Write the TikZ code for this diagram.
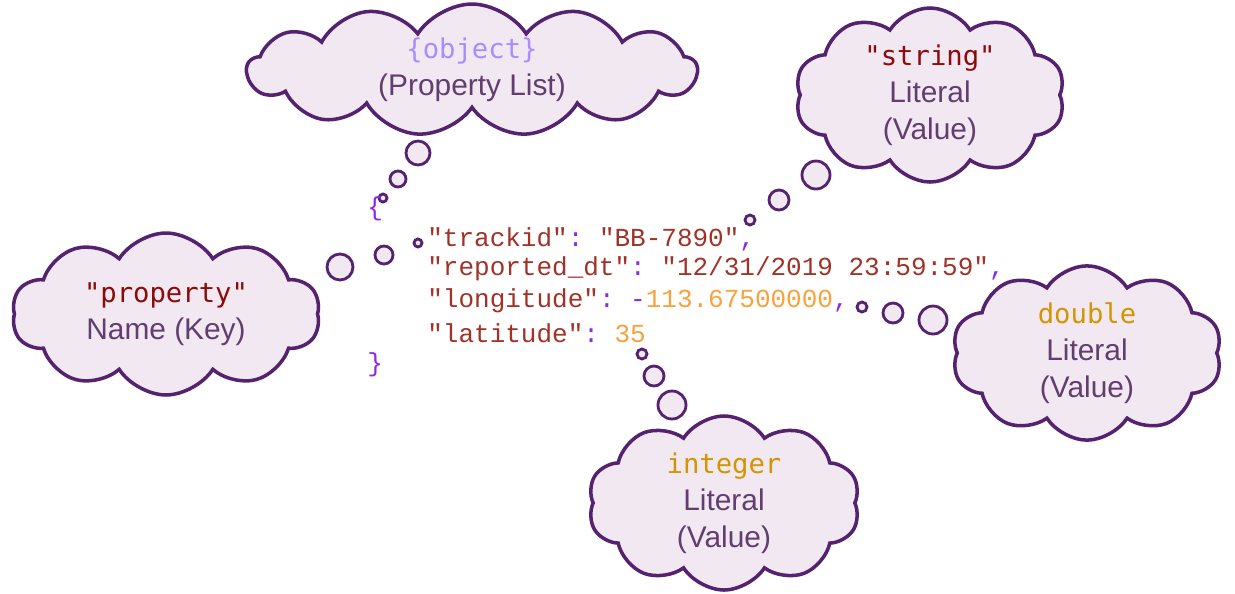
\documentclass[tikz,border=0pt]{standalone}
\usepackage{fontspec}
\setmainfont{Liberation Sans}
\newfontfamily\codefont{Liberation Mono}
\newfontfamily\typefont{DejaVu Sans Mono}
\definecolor{cloud_fill}{RGB}{242, 232, 242}
\definecolor{cloud_line}{RGB}{84, 34, 110}
\definecolor{label_text}{RGB}{98, 62, 112}
\definecolor{type_obj}{RGB}{170, 140, 255}
\definecolor{type_str}{RGB}{140, 10, 10}
\definecolor{type_num}{RGB}{210, 150, 0}
\definecolor{json_key}{RGB}{160, 50, 40}
\definecolor{json_punct}{RGB}{140, 40, 230}
\definecolor{json_num}{RGB}{250, 160, 60}
\usepackage{tikz}
\usetikzlibrary{shapes.symbols}
\frenchspacing

\begin{document}
\begin{tikzpicture}[x=0.02cm, y=-0.02cm,
            cld/.style={cloud, cloud puffs=#1, cloud puff arc=115,
                        draw=cloud_line, fill=cloud_fill, line width=2pt,
                        align=center, inner sep=0pt, text=label_text,
                        font=\fontsize{17}{21}\selectfont},
            bub/.style={circle, draw=cloud_line, fill=cloud_fill,
                        line width=1.6pt, inner sep=0pt, minimum size=#1},
            code/.style={anchor=west, inner sep=0pt, text=json_key,
                         font=\codefont\fontsize{14.8}{17}\selectfont}]
            \useasboundingbox (0,0) rectangle (1235,593);
            \node[cld=13, aspect=3.4, minimum width=9cm, minimum height=2.64cm] (object)
              at (472,70) {\textcolor{type_obj}{\typefont\fontsize{15.5}{21}\selectfont\{object\}}\\(Property List)};
            \node[cld=10, aspect=1.6, minimum width=5.4cm, minimum height=3.28cm] (string)
              at (930,95) {\textcolor{type_str}{\typefont\fontsize{15.5}{21}\selectfont"string"}\\Literal\\(Value)};
            \node[cld=10, aspect=1.9, minimum width=6.16cm, minimum height=3.24cm] (property)
              at (166,314) {\textcolor{type_str}{\typefont\fontsize{15.5}{21}\selectfont"property"}\\Name (Key)};
            \node[cld=10, aspect=1.6, minimum width=5.4cm, minimum height=3.28cm] (double)
              at (1087,353) {\textcolor{type_num}{\typefont\fontsize{15.5}{21}\selectfont double}\\Literal\\(Value)};
            \node[cld=10, aspect=1.6, minimum width=5.44cm, minimum height=3.26cm] (integer)
              at (724,503) {\textcolor{type_num}{\typefont\fontsize{15.5}{21}\selectfont integer}\\Literal\\(Value)};
            \foreach \px/\py/\d/\n in {418/153/0.48cm/objA, 398/179/0.32cm/objB, 383/198/0.16cm/objC,
                816/175/0.56cm/strA, 779/200/0.4cm/strB, 750/220/0.2cm/strC,
                340/267/0.52cm/propA, 384/255/0.36cm/propB, 418/243/0.16cm/propC,
                933/320/0.56cm/dblA, 893/313/0.4cm/dblB, 862/307/0.2cm/dblC,
                672/405/0.56cm/intA, 654/376/0.4cm/intB, 642/354/0.2cm/intC}
              \node[bub=\d] (\n) at (\px,\py) {};
            \node[code, text=json_punct] (open) at (367,209) {\{};
            \node[code] (track) at (427,239)
              {"trackid"\textcolor{json_punct}{:} "BB-7890"\textcolor{json_punct}{,}};
            \node[code] (time) at (427,269)
              {"reported\_dt"\textcolor{json_punct}{:} "12/31/2019 23:59:59"\textcolor{json_punct}{,}};
            \node[code] (lon) at (427,301)
              {"longitude"\textcolor{json_punct}{: -}\textcolor{json_num}{113.67500000}\textcolor{json_punct}{,}};
            \node[code] (lat) at (427,333)
              {"latitude"\textcolor{json_punct}{:} \textcolor{json_num}{35}};
            \node[code, text=json_punct] (close) at (367,365) {\}};
          \end{tikzpicture}
\end{document}
